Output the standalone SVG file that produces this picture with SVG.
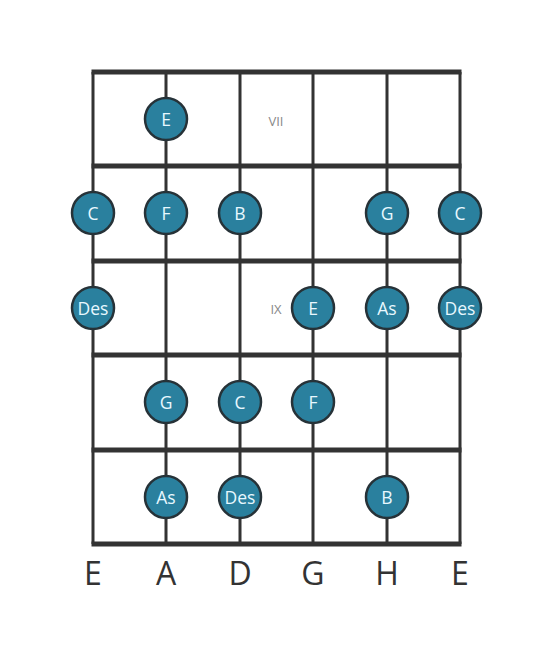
<svg xmlns="http://www.w3.org/2000/svg" width="553" height="656" viewBox="0 0 553 656">
<style>
.fret{stroke:#333;stroke-width:5;stroke-linecap:butt}
.str{stroke:#333;stroke-width:3}
.note circle{fill:#2a809e;stroke:#263238;stroke-width:2.5}
.note text{fill:#e8f8ff;font-family:"Open Sans","DejaVu Sans",sans-serif;font-size:17.5px;text-anchor:middle;dominant-baseline:central}
.pos{fill:#888;font-family:"Open Sans","DejaVu Sans",sans-serif;font-size:13px;text-anchor:middle;dominant-baseline:central}
.sname{fill:#333;font-family:"Open Sans","DejaVu Sans",sans-serif;font-size:32px;text-anchor:middle}
</style>
<rect width="553" height="656" fill="#fff"/>
<g id="connectors">
<line class="str" x1="93" y1="72" x2="93" y2="544"/>
<line class="str" x1="166" y1="72" x2="166" y2="544"/>
<line class="str" x1="240" y1="72" x2="240" y2="544"/>
<line class="str" x1="313" y1="72" x2="313" y2="544"/>
<line class="str" x1="387" y1="72" x2="387" y2="544"/>
<line class="str" x1="460" y1="72" x2="460" y2="544"/>
<line class="fret" x1="91.5" y1="72" x2="461.5" y2="72"/>
<line class="fret" x1="91.5" y1="166" x2="461.5" y2="166"/>
<line class="fret" x1="91.5" y1="261" x2="461.5" y2="261"/>
<line class="fret" x1="91.5" y1="355" x2="461.5" y2="355"/>
<line class="fret" x1="91.5" y1="450" x2="461.5" y2="450"/>
<line class="fret" x1="91.5" y1="544" x2="461.5" y2="544"/>
</g>
<g id="positions">
<text class="pos" x="276" y="121">VII</text>
<text class="pos" x="276" y="309">IX</text>
</g>
<g id="n1" class="note"><circle cx="166" cy="119" r="21"/><text x="166" y="119">E</text></g>
<g id="n2" class="note"><circle cx="93" cy="213" r="21"/><text x="93" y="213">C</text></g>
<g id="n3" class="note"><circle cx="166" cy="213" r="21"/><text x="166" y="213">F</text></g>
<g id="n4" class="note"><circle cx="240" cy="213" r="21"/><text x="240" y="213">B</text></g>
<g id="n5" class="note"><circle cx="387" cy="213" r="21"/><text x="387" y="213">G</text></g>
<g id="n6" class="note"><circle cx="460" cy="213" r="21"/><text x="460" y="213">C</text></g>
<g id="n7" class="note"><circle cx="93" cy="308" r="21"/><text x="93" y="308">Des</text></g>
<g id="n8" class="note"><circle cx="313" cy="308" r="21"/><text x="313" y="308">E</text></g>
<g id="n9" class="note"><circle cx="387" cy="308" r="21"/><text x="387" y="308">As</text></g>
<g id="n10" class="note"><circle cx="460" cy="308" r="21"/><text x="460" y="308">Des</text></g>
<g id="n11" class="note"><circle cx="166" cy="402" r="21"/><text x="166" y="402">G</text></g>
<g id="n12" class="note"><circle cx="240" cy="402" r="21"/><text x="240" y="402">C</text></g>
<g id="n13" class="note"><circle cx="313" cy="402" r="21"/><text x="313" y="402">F</text></g>
<g id="n14" class="note"><circle cx="166" cy="497" r="21"/><text x="166" y="497">As</text></g>
<g id="n15" class="note"><circle cx="240" cy="497" r="21"/><text x="240" y="497">Des</text></g>
<g id="n16" class="note"><circle cx="387" cy="497" r="21"/><text x="387" y="497">B</text></g>
<g id="strings">
<text class="sname" x="93" y="585">E</text>
<text class="sname" x="166" y="585">A</text>
<text class="sname" x="240" y="585">D</text>
<text class="sname" x="313" y="585">G</text>
<text class="sname" x="387" y="585">H</text>
<text class="sname" x="460" y="585">E</text>
</g>
</svg>
